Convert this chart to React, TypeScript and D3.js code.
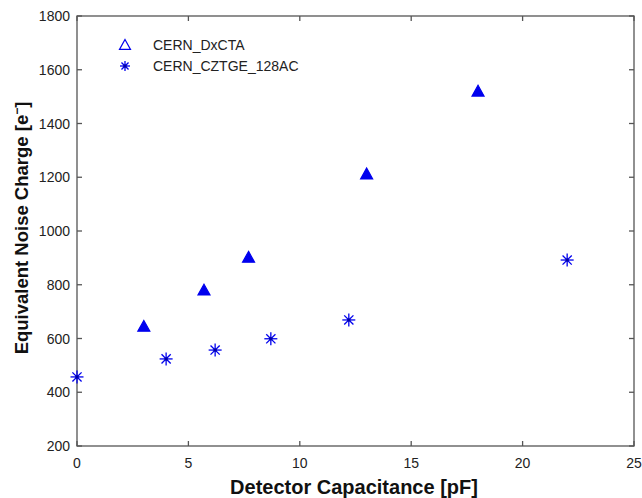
import React from "react";
import * as d3 from "d3";

const dxctaX = [3, 5.7, 7.7, 13, 18];
const dxctaY = [645, 780, 902, 1212, 1520];
const cztgeX = [0, 4, 6.2, 8.7, 12.2, 22];
const cztgeY = [457, 524, 557, 599, 669, 892];
const xTicks = [0, 5, 10, 15, 20, 25];
const yTicks = [200, 400, 600, 800, 1000, 1200, 1400, 1600, 1800];
const seriesNames = ["CERN_DxCTA", "CERN_CZTGE_128AC"];

const W = 642, H = 498;
const L = 77, R = 634, T = 16, B = 446;
const BLUE = "#0000ee";
const AX = "#555";

function Tri({ x, y, s, fill }: { x: number; y: number; s: number; fill: boolean }) {
  const h = s * 0.9;
  const p = `M${x},${y - h * 0.55}L${x + s / 2},${y + h * 0.45}L${x - s / 2},${y + h * 0.45}Z`;
  return <path d={p} fill={fill ? BLUE : "none"} stroke={BLUE} strokeWidth={1.2} />;
}

function Star({ x, y, r }: { x: number; y: number; r: number }) {
  const d = r * 0.707;
  return (
    <g stroke={BLUE} strokeWidth={1.3}>
      <line x1={x - r} y1={y} x2={x + r} y2={y} />
      <line x1={x} y1={y - r} x2={x} y2={y + r} />
      <line x1={x - d} y1={y - d} x2={x + d} y2={y + d} />
      <line x1={x - d} y1={y + d} x2={x + d} y2={y - d} />
      <circle cx={x} cy={y} r={1.8} fill="#0000aa" stroke="none" />
    </g>
  );
}

export default function App() {
  const xs = d3.scaleLinear().domain([0, 25]).range([L, R]);
  const ys = d3.scaleLinear().domain([200, 1800]).range([B, T]);
  const font = "Liberation Sans, Arial, sans-serif";
  return (
    <svg width={W} height={H} style={{ position: "absolute", left: 0, top: 0 }} fontFamily={font}>
      <rect x={0} y={0} width={W} height={H} fill="#fff" />
      <rect x={L} y={T} width={R - L} height={B - T} fill="none" stroke={AX} strokeWidth={1.3} />
      {xTicks.map((t) => (
        <g key={"x" + t}>
          <line x1={xs(t)} x2={xs(t)} y1={B} y2={B - 5} stroke={AX} strokeWidth={1.3} />
          <line x1={xs(t)} x2={xs(t)} y1={T} y2={T + 5} stroke={AX} strokeWidth={1.3} />
          <text x={xs(t)} y={B + 22} textAnchor="middle" fontSize={14} fill="#222">{t}</text>
        </g>
      ))}
      {yTicks.map((t) => (
        <g key={"y" + t}>
          <line x1={L} x2={L + 5} y1={ys(t)} y2={ys(t)} stroke={AX} strokeWidth={1.3} />
          <line x1={R} x2={R - 5} y1={ys(t)} y2={ys(t)} stroke={AX} strokeWidth={1.3} />
          <text x={L - 7} y={ys(t) + 5} textAnchor="end" fontSize={14} fill="#222">{t}</text>
        </g>
      ))}
      <text x={354} y={494} textAnchor="middle" fontSize={20} fontWeight="bold" fill="#111">
        Detector Capacitance [pF]
      </text>
      <text transform={`translate(28,228) rotate(-90)`} textAnchor="middle" fontSize={18.5} fontWeight="bold" fill="#111">
        Equivalent Noise Charge [e<tspan dy={-7} fontSize={12}>−</tspan><tspan dy={7}>]</tspan>
      </text>
      {dxctaX.map((x, i) => (
        <Tri key={"t" + i} x={xs(x)} y={ys(dxctaY[i])} s={12} fill={true} />
      ))}
      {cztgeX.map((x, i) => (
        <Star key={"s" + i} x={xs(x)} y={ys(cztgeY[i])} r={6.5} />
      ))}
      <Tri x={125} y={45} s={11} fill={false} />
      <Star x={125} y={66} r={5} />
      <text x={153} y={50} fontSize={14} fill="#222">{seriesNames[0]}</text>
      <text x={153} y={71} fontSize={14} fill="#222">{seriesNames[1]}</text>
    </svg>
  );
}
